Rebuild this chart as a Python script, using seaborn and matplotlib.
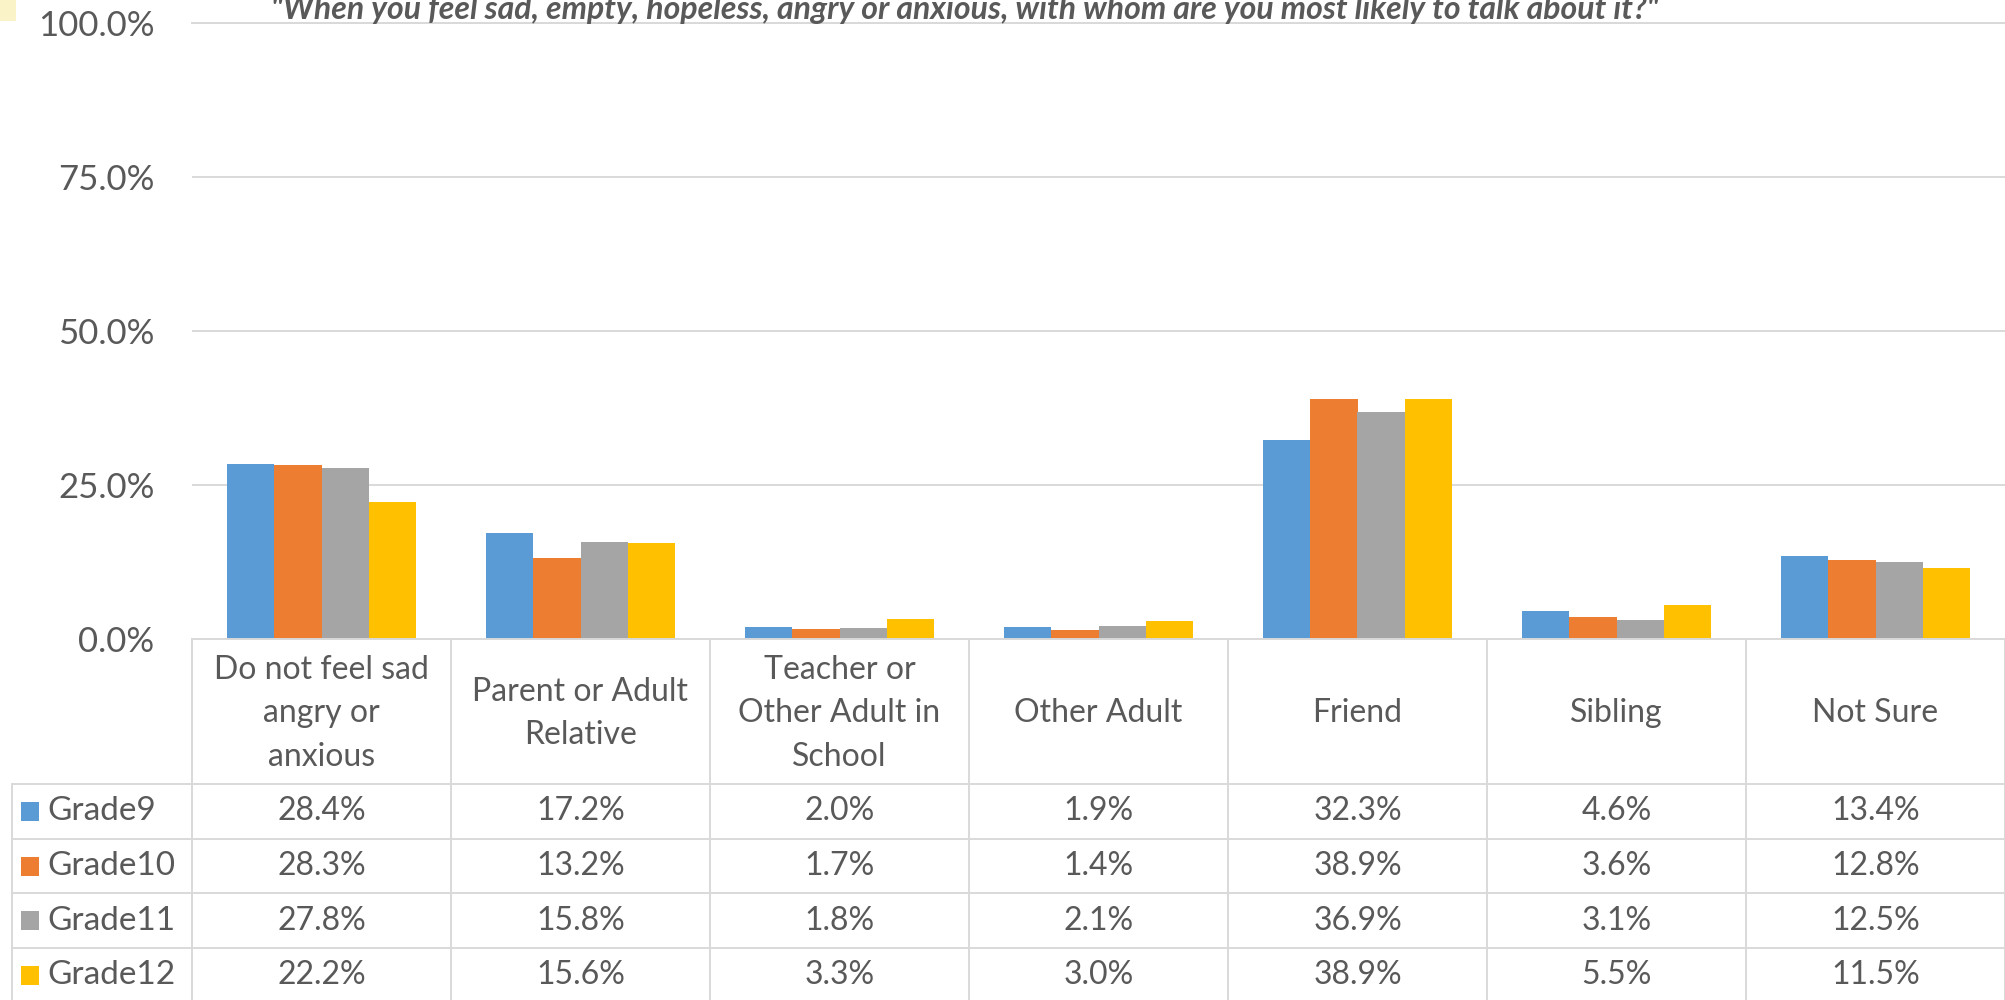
import numpy as np
import pandas as pd
import matplotlib
matplotlib.use("Agg")
import matplotlib.pyplot as plt
from matplotlib.lines import Line2D
from matplotlib.patches import Rectangle
import seaborn as sns

# --- data ---
categories = ["Do not feel sad\nangry or\nanxious", "Parent or Adult\nRelative",
              "Teacher or\nOther Adult in\nSchool", "Other Adult", "Friend",
              "Sibling", "Not Sure"]
grades = ["Grade9", "Grade10", "Grade11", "Grade12"]
grade9 = [28.4, 17.2, 2.0, 1.9, 32.3, 4.6, 13.4]
grade10 = [28.3, 13.2, 1.7, 1.4, 38.9, 3.6, 12.8]
grade11 = [27.8, 15.8, 1.8, 2.1, 36.9, 3.1, 12.5]
grade12 = [22.2, 15.6, 3.3, 3.0, 38.9, 5.5, 11.5]
yticks = [0.0, 0.25, 0.50, 0.75, 1.0]
title = ('"When you feel sad, empty, hopeless, angry or anxious, '
         'with whom are you most likely to talk about it?"')

colors = ["#5B9BD5", "#ED7D31", "#A5A5A5", "#FFC000"]
text_col = "#595959"
line_col = "#D9D9D9"

series = [grade9, grade10, grade11, grade12]
df = pd.DataFrame({
    "category": np.tile(categories, len(grades)),
    "grade": np.repeat(grades, len(categories)),
    "value": np.concatenate(series) / 100.0,
})

sns.set_theme(style="white")
plt.rcParams["font.family"] = ["Lato", "DejaVu Sans"]

W, H = 2005, 1000
def fx(px):
    return px / W
def fy(py):
    return 1 - py / H

ax_left, ax_top, ax_bottom = 192, 23, 639
fig = plt.figure(figsize=(W / 100, H / 100), dpi=100)
ax = fig.add_axes([fx(ax_left), fy(ax_bottom), 1 - fx(ax_left), (ax_bottom - ax_top) / H])

sns.barplot(data=df, x="category", y="value", hue="grade", palette=colors,
            width=0.73, saturation=1, linewidth=0, legend=False, ax=ax)

ax.set_ylim(0, 1)
ax.set_xlim(-0.5, len(categories) - 0.5)
ax.set_yticks(yticks)
ax.set_yticklabels([f"{t * 100:.1f}%" for t in yticks])
ax.tick_params(axis="y", length=0, pad=27, labelsize=25, labelcolor=text_col)
ax.tick_params(axis="x", length=0, labelbottom=False)
ax.set_xlabel("")
ax.set_ylabel("")
ax.set_axisbelow(True)
ax.grid(axis="y", color=line_col, lw=1.4)
for side in ["left", "right"]:
    ax.spines[side].set_visible(False)
for side in ["top", "bottom"]:
    ax.spines[side].set_color(line_col)
    ax.spines[side].set_linewidth(1.4)

fig.text(fx(965), fy(19), title, ha="center", va="baseline", fontsize=23,
         fontweight="bold", style="italic", color=text_col)

# little image fragment in the corner
fig.add_artist(Rectangle((0, fy(21)), fx(16), 21 / H, transform=fig.transFigure,
                         color="#FBF3C8", lw=0))

# --- data table ---
n = len(categories)
col_w = (W - ax_left) / n
header_bottom = 784
row_h = 54.7
tab_left = 12
fs = 23

def hline(py, x0, x1):
    fig.add_artist(Line2D([fx(x0), fx(x1)], [fy(py), fy(py)], transform=fig.transFigure,
                          color=line_col, lw=1.4))

def vline(px, y0, y1):
    fig.add_artist(Line2D([fx(px), fx(px)], [fy(y0), fy(y1)], transform=fig.transFigure,
                          color=line_col, lw=1.4))

for i in range(n + 1):
    vline(ax_left + i * col_w, ax_bottom, H)
vline(tab_left, header_bottom, H)
for r in range(len(grades)):
    hline(header_bottom + r * row_h, tab_left, W)

for i, cat in enumerate(categories):
    cx = ax_left + (i + 0.5) * col_w
    fig.text(fx(cx), fy((ax_bottom + header_bottom) / 2 + 2), cat, ha="center", va="center",
             fontsize=fs, color=text_col, linespacing=1.58, multialignment="center")

for r, (g, vals, c) in enumerate(zip(grades, series, colors)):
    cy = header_bottom + (r + 0.5) * row_h
    fig.add_artist(Rectangle((fx(21), fy(cy + 9.5)), 18 / W, 19 / H,
                             transform=fig.transFigure, color=c, lw=0))
    fig.text(fx(47), fy(cy), g, ha="left", va="center", fontsize=fs + 1, color=text_col)
    for i, v in enumerate(vals):
        cx = ax_left + (i + 0.5) * col_w
        fig.text(fx(cx), fy(cy), f"{v:.1f}%", ha="center", va="center",
                 fontsize=fs, color=text_col)

fig.savefig("out.png", dpi=100)
